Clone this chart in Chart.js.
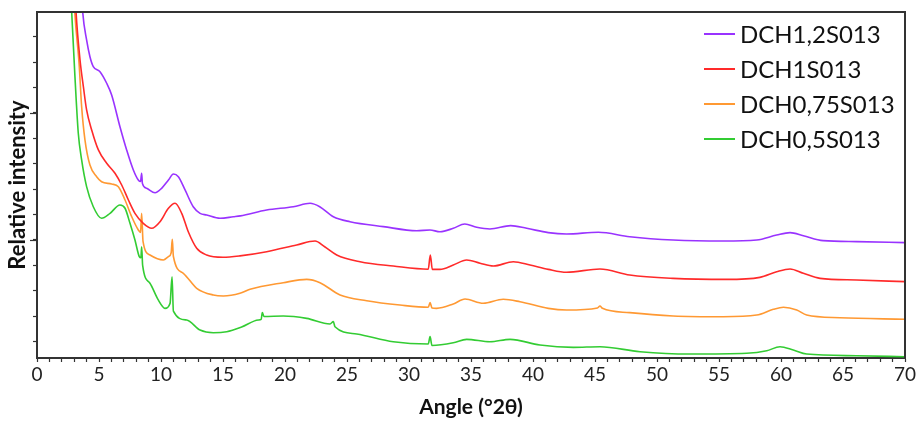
<!DOCTYPE html>
<html>
<head>
<meta charset="utf-8">
<script src="https://cdn.jsdelivr.net/npm/chart.js@4.4.1/dist/chart.umd.min.js"></script>
<style>
  html, body { margin: 0; padding: 0; background: #fff; }
  #wrap { width: 919px; height: 421px; }
</style>
</head>
<body>
<div id="wrap"><canvas id="c" width="919" height="421"></canvas></div>
<script>
// Series labels and colours
const seriesNames = ['DCH1,2S013', 'DCH1S013', 'DCH0,75S013', 'DCH0,5S013'];
const seriesColors = ['#9933ff', '#ff2a2a', '#ff9933', '#33cc33'];

// Angle (°2θ) values and relative intensity (arbitrary units)
const purpleX = [3.45,3.69,4.0,4.27,4.54,5.08,5.62,6.02,6.69,7.23,7.77,8.17,8.35,8.44,8.5,8.84,9.52,10.05,10.6,11.0,11.4,11.94,12.6,13.15,13.68,14.76,15.83,16.4,18.52,20.67,22.02,22.8,23.9,25.24,27.93,30.62,31.69,32.5,33.57,34.5,35.46,36.53,38.2,39.49,41.23,42.7,45.27,47.8,51.3,55.35,58.04,59.65,60.73,61.8,63.4,66.1,70];
const purpleY = [3200,2790,2575,2443,2365,2325,2234,2142,1892,1709,1551,1472,1460,1525,1446,1407,1372,1407,1472,1520,1498,1394,1262,1210,1197,1171,1183,1190,1236,1262,1289,1262,1183,1144,1105,1073,1079,1065,1092,1126,1100,1087,1113,1092,1058,1047,1061,1026,1000,992,1000,1039,1058,1034,995,987,979];

const redX = [2.95,3.15,3.47,3.74,4.0,4.41,4.95,5.62,6.29,6.83,7.37,7.9,8.57,9.25,9.92,10.6,11.13,11.67,12.2,12.88,13.68,15.0,16.37,18.52,20.94,22.42,23.2,24.17,26.05,28.73,31.55,31.72,31.88,32.5,33.57,34.65,35.73,36.8,38.41,39.76,41.23,42.7,45.4,47.8,51.3,55.6,58.3,59.65,60.73,61.8,63.15,66.1,70];
const redY = [3200,2790,2417,2207,2024,1866,1709,1604,1525,1433,1315,1210,1131,1092,1144,1250,1289,1210,1065,935,882,864,875,908,961,992,947,882,829,795,770,882,769,769,803,843,817,795,829,803,769,746,772,724,698,690,706,750,772,738,698,685,672];

const orangeX = [2.85,3.05,3.4,3.6,3.87,4.27,4.81,5.21,6.02,6.56,7.1,7.64,8.17,8.35,8.44,8.55,9.11,10.19,10.6,10.82,10.91,11.0,11.8,12.88,14.22,15.03,16.37,17.18,19.86,21.75,22.82,24.44,26.59,29.27,31.55,31.7,31.85,32.23,33.57,34.52,35.99,37.6,38.95,41.23,42.7,45.2,45.4,45.6,47.8,51.3,55.35,58.04,59.38,60.2,61.27,62.07,64.76,70];
const orangeY = [3200,2790,2380,2050,1787,1590,1498,1459,1441,1420,1315,1183,1079,1060,1210,990,882,843,869,900,1005,870,738,620,567,559,580,612,664,690,664,567,522,488,470,507,465,462,496,535,502,533,514,462,449,465,480,462,428,402,396,409,454,470,449,409,388,376];

const greenX = [2.6,2.8,3.06,3.33,3.6,4.0,4.54,5.21,5.89,6.69,7.1,7.5,7.9,8.25,8.38,8.44,8.52,9.11,9.78,10.32,10.73,10.89,11.0,12.07,13.15,14.22,15.3,16.5,17.85,18.08,18.17,18.3,19.86,21.75,23.63,23.9,24.03,25.78,28.73,31.55,31.7,31.85,33.57,34.65,36.53,38.15,40.56,43.25,45.4,48.63,52.66,57.23,58.85,59.92,60.99,62.07,66.1,70];
const greenY = [3200,2790,2286,1840,1630,1420,1262,1171,1210,1276,1250,1131,1000,869,860,947,800,659,528,462,501,711,440,370,291,270,278,315,370,375,428,398,402,383,339,357,317,260,199,181,239,170,191,218,199,218,173,155,160,120,102,108,128,160,134,102,89,81];

// Axis tick settings
const xMin = 0, xMax = 70, xMajorStep = 5, xMinorStep = 1;
const yMin = 71, yMax = 2795, yMajorStep = 1000, yMinorStep = 200;

function pts(xs, ys) { return xs.map((x, i) => ({ x: x, y: ys[i] })); }
const allX = [purpleX, redX, orangeX, greenX];
const allY = [purpleY, redY, orangeY, greenY];

const datasets = seriesNames.map((name, i) => ({
  label: name,
  data: pts(allX[i], allY[i]),
  borderColor: seriesColors[i],
  backgroundColor: seriesColors[i],
  borderWidth: 1.6,
  pointRadius: 0,
  fill: false,
  cubicInterpolationMode: 'monotone'
}));

const frameAndLegend = {
  id: 'frameAndLegend',
  afterDraw(chart) {
    const { ctx, chartArea: a } = chart;
    const ys = chart.scales.y;
    ctx.save();
    ctx.strokeStyle = '#333';
    ctx.lineWidth = 2;
    ctx.beginPath();
    ctx.moveTo(a.left, a.top);
    ctx.lineTo(a.right, a.top);
    ctx.lineTo(a.right, a.bottom);
    ctx.stroke();
    // longer major ticks on the y axis
    ctx.lineWidth = 1.2;
    ys.ticks.forEach(t => {
      if (t.value % yMajorStep === 0) {
        const py = Math.round(ys.getPixelForValue(t.value)) + 0.5;
        ctx.beginPath();
        ctx.moveTo(a.left - 7, py);
        ctx.lineTo(a.left, py);
        ctx.stroke();
      }
    });
    // legend
    ctx.font = '24px Lato';
    ctx.textBaseline = 'middle';
    ctx.textAlign = 'left';
    chart.data.datasets.forEach((ds, i) => {
      const y = a.top + 22 + i * 35;
      const x0 = a.right - 201;
      ctx.strokeStyle = ds.borderColor;
      ctx.lineWidth = 2;
      ctx.beginPath();
      ctx.moveTo(x0, y);
      ctx.lineTo(x0 + 31, y);
      ctx.stroke();
      ctx.fillStyle = '#111';
      ctx.fillText(ds.label, x0 + 36, y + 1);
    });
    ctx.restore();
  }
};

new Chart(document.getElementById('c'), {
  type: 'line',
  data: { datasets },
  options: {
    responsive: false,
    animation: false,
    layout: { padding: { left: 0, right: 14, top: 12, bottom: 0 } },
    plugins: { legend: { display: false }, tooltip: { enabled: false } },
    scales: {
      x: {
        type: 'linear',
        min: xMin, max: xMax,
        ticks: {
          stepSize: xMinorStep,
          autoSkip: false,
          maxRotation: 0,
          padding: 1,
          color: '#222',
          font: { family: 'Lato', size: 19 },
          callback: (v) => (v % xMajorStep === 0 ? String(v) : '')
        },
        grid: { drawOnChartArea: false, tickLength: 4, tickColor: '#333', tickWidth: 1.2 },
        border: { color: '#333', width: 2 },
        title: { display: true, text: 'Angle (°2θ)', color: '#111', font: { family: 'Lato', size: 21, weight: 'bold' }, padding: { top: 0, bottom: 1 } },
        afterFit(s) { s.height = 63; }
      },
      y: {
        type: 'linear',
        min: yMin, max: yMax,
        ticks: { display: false, stepSize: yMinorStep },
        afterBuildTicks(s) {
          const t = [];
          for (let v = Math.ceil(yMin / yMinorStep) * yMinorStep; v < yMax; v += yMinorStep) t.push({ value: v });
          s.ticks = t;
        },
        grid: { drawOnChartArea: false, tickLength: 4, tickColor: '#333', tickWidth: 1.2 },
        border: { color: '#333', width: 2 },
        title: { display: true, text: 'Relative intensity', color: '#111', font: { family: 'Lato', size: 22, weight: 'bold' }, padding: { top: 5, bottom: 0 } },
        afterFit(s) { s.width = 37; }
      }
    }
  },
  plugins: [frameAndLegend]
});
</script>
</body>
</html>
